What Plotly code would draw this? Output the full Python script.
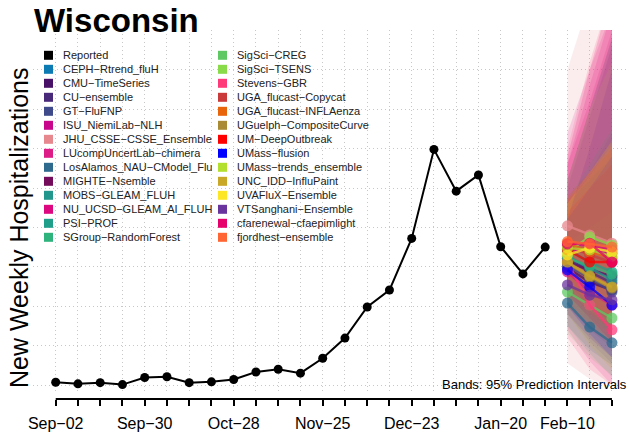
import pandas as pd
import plotly.graph_objects as go

# ---------------------------------------------------------------- data
state = "Wisconsin"
start_week = "2023-09-02"
n_weeks = 26  # weekly ticks shown on the x axis

reported = [7, 3, 6, 1, 19, 21, 6, 8, 14, 33, 40, 30, 68, 119, 198, 241,
            372, 598, 492, 533, 351, 282, 350]

tick_labels = {
    "2023-09-02": "Sep\u221202",
    "2023-09-30": "Sep\u221230",
    "2023-10-28": "Oct\u221228",
    "2023-11-25": "Nov\u221225",
    "2023-12-23": "Dec\u221223",
    "2024-01-20": "Jan\u221220",
    "2024-02-10": "Feb\u221210",
}

model_names = [
    "CEPH\u2212Rtrend_fluH", "CMU\u2212TimeSeries", "CU\u2212ensemble", "GT\u2212FluFNP",
    "ISU_NiemiLab\u2212NLH", "JHU_CSSE\u2212CSSE_Ensemble", "LUcompUncertLab\u2212chimera",
    "LosAlamos_NAU\u2212CModel_Flu", "MIGHTE\u2212Nsemble", "MOBS\u2212GLEAM_FLUH",
    "NU_UCSD\u2212GLEAM_AI_FLUH", "PSI\u2212PROF", "SGroup\u2212RandomForest",
    "SigSci\u2212CREG", "SigSci\u2212TSENS", "Stevens\u2212GBR", "UGA_flucast\u2212Copycat",
    "UGA_flucast\u2212INFLAenza", "UGuelph\u2212CompositeCurve", "UM\u2212DeepOutbreak",
    "UMass\u2212flusion", "UMass\u2212trends_ensemble", "UNC_IDD\u2212InfluPaint",
    "UVAFluX\u2212Ensemble", "VTSanghani\u2212Ensemble", "cfarenewal\u2212cfaepimlight",
    "fjordhest\u2212ensemble",
]

model_colors = [
    "#0C7BB3", "#4A1168", "#482878", "#3E4A89", "#C8068C", "#E7878E", "#DD1C88",
    "#2E6A8E", "#750C5B", "#21968C", "#DD0880", "#1F9E89", "#2EB37C", "#5EC962",
    "#8ADB4A", "#FF3A7A", "#CB3A3A", "#E8650C", "#A88B32", "#FF0000", "#0000FF",
    "#B3E02E", "#C9A727", "#FDE725", "#6A349E", "#E6006B", "#FF6633",
]

# forecast horizons 1-3 (weeks after the last report)
median = [
    [312, 297, 272], [297, 261, 241], [322, 287, 259], [302, 272, 236],
    [343, 338, 335], [404, 381, 360], [287, 236, 203], [208, 147, 107],
    [312, 292, 277], [327, 297, 266], [358, 355, 343], [343, 312, 287],
    [322, 302, 282], [236, 203, 170], [338, 376, 355], [312, 203, 140],
    [355, 330, 312], [360, 338, 322], [310, 274, 246], [343, 312, 312],
    [292, 249, 203], [348, 343, 327], [312, 277, 249], [330, 348, 338],
    [254, 228, 216], [358, 360, 312], [364, 358, 350],
]
lower95 = [
    [230, 190, 150], [200, 140, 95], [210, 150, 100], [180, 110, 55],
    [240, 200, 170], [55, 15, 0], [140, 60, 0], [150, 90, 50],
    [200, 150, 110], [230, 170, 120], [250, 200, 150], [150, 80, 20],
    [220, 170, 130], [130, 70, 25], [200, 160, 120], [120, 40, 0],
    [250, 190, 140], [240, 180, 140], [220, 160, 110], [260, 200, 160],
    [200, 130, 70], [240, 190, 140], [180, 100, 40], [200, 150, 100],
    [180, 120, 70], [230, 170, 110], [260, 210, 170],
]
upper95 = [
    [420, 470, 520], [430, 480, 560], [500, 680, 860], [450, 540, 640],
    [560, 720, 900], [800, 980, 1100], [640, 800, 950], [290, 260, 240],
    [520, 700, 880], [460, 520, 580], [560, 760, 950], [520, 700, 880],
    [470, 560, 650], [360, 400, 440], [520, 700, 820], [600, 820, 1000],
    [470, 530, 600], [480, 540, 600], [420, 470, 520], [440, 500, 560],
    [420, 500, 580], [460, 530, 610], [470, 540, 620], [460, 540, 620],
    [420, 600, 800], [580, 800, 1000], [470, 540, 610],
]

# ---------------------------------------------------------------- geometry
W, H = 629, 433
LEFT, TOP, AXIS_Y, PLOT_BOTTOM = 33, 30, 399, 393
PAPER_W = W - LEFT
PAPER_H = AXIS_Y - TOP
FONT = "Liberation Sans, Arial, Helvetica, sans-serif"


def px(xp):
    return (xp - LEFT) / PAPER_W


def py(yp):
    return (AXIS_Y - yp) / PAPER_H


def rgba(hex_color, a):
    h = hex_color.lstrip("#")
    r, g, b = (int(h[i:i + 2], 16) for i in (0, 2, 4))
    return f"rgba({r},{g},{b},{a})"


weeks = pd.date_range(start_week, periods=n_weeks, freq="7D")
report_dates = weeks[:len(reported)]
fc_dates = weeks[len(reported):len(reported) + 3]

fig = go.Figure()

# prediction-interval bands
for name, col, lo, hi in zip(model_names, model_colors, lower95, upper95):
    fig.add_trace(go.Scatter(
        x=list(fc_dates) + list(fc_dates[::-1]),
        y=list(lo) + list(hi[::-1]),
        fill="toself", fillcolor=rgba(col, 0.15),
        line=dict(width=0), mode="lines", hoverinfo="skip",
        showlegend=False, name=name,
    ))

# model medians
for name, col, med in zip(model_names, model_colors, median):
    fig.add_trace(go.Scatter(
        x=fc_dates, y=med, mode="lines+markers", name=name,
        line=dict(color=rgba(col, 0.75), width=2.5),
        marker=dict(color=rgba(col, 0.75), size=11),
        showlegend=False,
    ))

# reported data
fig.add_trace(go.Scatter(
    x=report_dates, y=reported, mode="lines+markers", name="Reported",
    line=dict(color="black", width=2),
    marker=dict(color="black", size=9),
    showlegend=False,
))

# ---------------------------------------------------------------- legend
shapes = []
annotations = []
legend_entries = [("Reported", "#000000")] + list(zip(model_names, model_colors))
col1 = legend_entries[:14]
col2 = legend_entries[14:]
for col_entries, sw_x, tx_x in ((col1, 44, 61), (col2, 218, 235)):
    for k, (label, colr) in enumerate(col_entries):
        cy = 55.3 + 14 * k
        shapes.append(dict(type="rect", xref="paper", yref="paper",
                           x0=px(sw_x), x1=px(sw_x + 9),
                           y0=py(cy + 4.5), y1=py(cy - 4.5),
                           fillcolor=colr, line=dict(width=0)))
        annotations.append(dict(xref="paper", yref="paper", x=px(tx_x), y=py(cy),
                                xanchor="left", yanchor="middle", showarrow=False,
                                text=label, font=dict(family=FONT, size=11, color="#222")))

# x axis baseline from first to last tick
shapes.append(dict(type="line", xref="x", yref="paper",
                   x0=weeks[0], x1=weeks[-1], y0=0, y1=0,
                   line=dict(color="black", width=2)))

annotations += [
    dict(xref="paper", yref="paper", x=px(32), y=py(21), xanchor="left",
         yanchor="middle", showarrow=False, text=f"<b>{state}</b>",
         font=dict(family=FONT, size=33, color="black")),
    dict(xref="paper", yref="paper", x=px(19), y=py(228), xanchor="center",
         yanchor="middle", showarrow=False, textangle=-90,
         text="New Weekly Hospitalizations",
         font=dict(family=FONT, size=25, color="black")),
    dict(xref="paper", yref="paper", x=px(629), y=py(384), xanchor="right",
         yanchor="middle", showarrow=False,
         text="Bands: 95% Prediction Intervals",
         font=dict(family=FONT, size=13, color="black")),
]

x0 = weeks[0] + pd.Timedelta(days=7 * (LEFT - 55.7) / 22.25)
x1 = weeks[0] + pd.Timedelta(days=7 * (W - 55.7) / 22.25)

fig.update_layout(
    width=W, height=H,
    margin=dict(l=LEFT, r=0, t=TOP, b=H - AXIS_Y, pad=0),
    paper_bgcolor="white", plot_bgcolor="white",
    showlegend=False,
    shapes=shapes, annotations=annotations,
    xaxis=dict(
        range=[x0, x1], anchor="free", position=0,
        tickmode="array", tickvals=list(weeks),
        ticktext=[tick_labels.get(d.strftime("%Y-%m-%d"), "") for d in weeks],
        ticks="outside", ticklen=6, tickwidth=2, tickcolor="black",
        ticklabelstandoff=4,
        showline=False, zeroline=False,
        showgrid=True, gridcolor="#C8C8C8", griddash="1px,3px", gridwidth=1,
        tickfont=dict(family=FONT, size=16, color="black"),
    ),
    yaxis=dict(
        domain=[(AXIS_Y - PLOT_BOTTOM) / PAPER_H, 1],
        range=[-20.3, 901], dtick=100, tick0=0,
        showticklabels=False, ticks="", showline=False, zeroline=False,
        showgrid=True, gridcolor="#C8C8C8", griddash="1px,3px", gridwidth=1,
    ),
    font=dict(family=FONT),
)

fig.write_html("out.html")
